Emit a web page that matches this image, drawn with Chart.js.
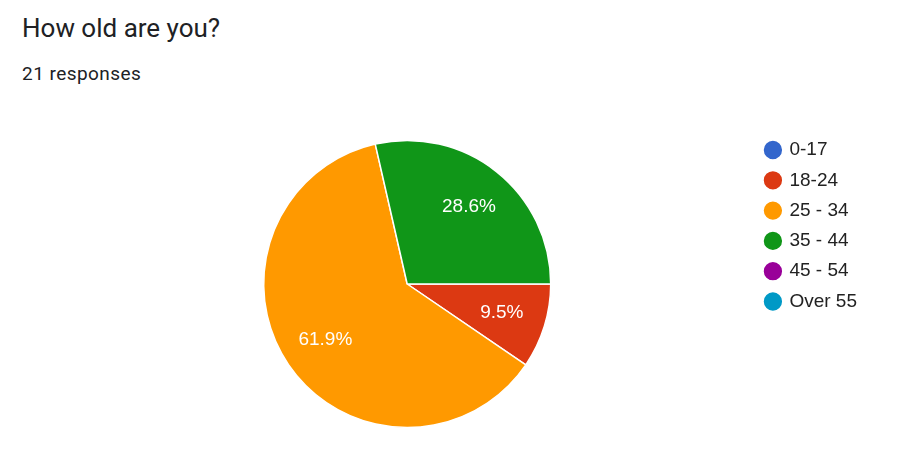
<!DOCTYPE html>
<html>
<head>
<meta charset="utf-8">
<script src="https://cdn.jsdelivr.net/npm/chart.js@4.4.0/dist/chart.umd.min.js"></script>
<style>
  body { margin: 0; background: #fff; }
  #wrap { position: relative; width: 900px; height: 468px; overflow: hidden; }
  #chart { position: absolute; left: 0; top: 0; }
  .title { position: absolute; left: 22px; top: 15px; font-family: Roboto, sans-serif; font-size: 26px; line-height: 26px; color: #202124; white-space: nowrap; }
  .sub { position: absolute; left: 22px; top: 64px; font-family: Roboto, sans-serif; font-size: 19px; line-height: 19px; letter-spacing: 0.45px; color: #202124; white-space: nowrap; }
</style>
</head>
<body>
<div id="wrap">
  <div class="title">How old are you?</div>
  <div class="sub">21 responses</div>
  <canvas id="chart" width="900" height="468"></canvas>
</div>
<script>
// Answers and counts (21 responses)
const ageGroups = ["0-17", "18-24", "25 - 34", "35 - 44", "45 - 54", "Over 55"];
const responses = [0, 2, 13, 6, 0, 0];
const sliceColors = ["#3366cc", "#dc3912", "#ff9900", "#109618", "#990099", "#0099c6"];

// Percent labels drawn inside each slice
const sliceLabels = {
  id: "sliceLabels",
  afterDatasetsDraw(chart) {
    const ctx = chart.ctx;
    const meta = chart.getDatasetMeta(0);
    const total = responses.reduce((a, b) => a + b, 0);
    ctx.save();
    ctx.fillStyle = "#ffffff";
    ctx.font = '19px Arial, "Liberation Sans", sans-serif';
    ctx.textAlign = "center";
    ctx.textBaseline = "middle";
    meta.data.forEach((arc, i) => {
      if (!responses[i]) return;
      const p = arc.getProps(["x", "y", "startAngle", "endAngle", "outerRadius"], true);
      const mid = (p.startAngle + p.endAngle) / 2;
      const r = p.outerRadius * 0.69;
      const text = (responses[i] / total * 100).toFixed(1) + "%";
      ctx.fillText(text, p.x + Math.cos(mid) * r, p.y + Math.sin(mid) * r);
    });
    ctx.restore();
  }
};

new Chart(document.getElementById("chart"), {
  type: "pie",
  data: {
    labels: ageGroups,
    datasets: [
      {
        data: responses,
        backgroundColor: sliceColors,
        borderColor: "#ffffff",
        borderWidth: 1.5,
      },
    ],
  },
  options: {
    responsive: false,
    animation: false,
    devicePixelRatio: 1,
    rotation: 90,
    radius: 143.5,
    layout: {
      padding: { top: 129.2, bottom: 29.2, left: 59.8, right: 33 },
    },
    plugins: {
      tooltip: { enabled: false },
      legend: {
        position: "right",
        align: "start",
        labels: {
          usePointStyle: true,
          pointStyle: "circle",
          boxWidth: 14,
          boxHeight: 14,
          padding: 11.3,
          color: "#222222",
          font: { family: 'Arial, "Liberation Sans", sans-serif', size: 19 },
        },
      },
    },
  },
  plugins: [sliceLabels],
});
</script>
</body>
</html>
